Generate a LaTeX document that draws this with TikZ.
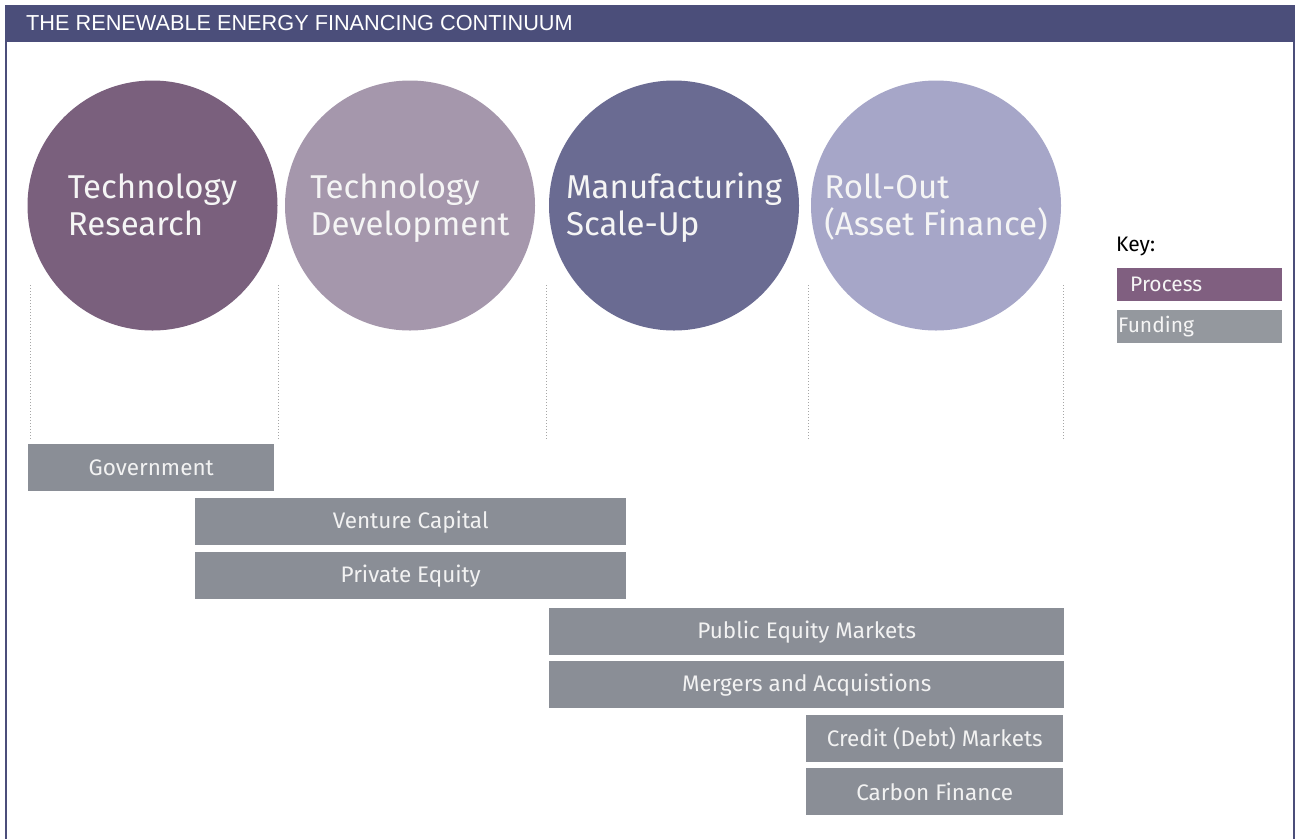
\documentclass[tikz,border=0pt]{standalone}
\usepackage{fontspec}
\setmainfont{Fira Sans}
\newfontfamily\headfont{Liberation Sans}
\newcommand{\toprule}{\rule{0pt}{34pt}}
\begin{document}
\begin{tikzpicture}[x=1pt,y=-1pt,
  stage/.style={circle, inner sep=0pt, minimum size=250pt, align=left, text=white!92!gray,
    font=\fontsize{33}{37}\selectfont},
  fund/.style={rectangle, fill=fundgray, inner sep=0pt, minimum height=47pt, anchor=north west,
    text=white!90!gray, font=\fontsize{22.5}{25}\selectfont},
  guide/.style={draw=gray!70, line width=1pt, dotted},
  keybox/.style={rectangle, inner sep=0pt, minimum width=165pt, minimum height=33pt, anchor=north west,
    text=white!92!gray, font=\fontsize{21}{24}\selectfont, text width=163pt, align=left}
]
\definecolor{headblue}{RGB}{75,78,122}
\definecolor{cOne}{RGB}{122,96,125}
\definecolor{cTwo}{RGB}{165,151,172}
\definecolor{cThree}{RGB}{106,107,146}
\definecolor{cFour}{RGB}{166,166,200}
\definecolor{fundgray}{RGB}{138,142,150}
\definecolor{keyproc}{RGB}{128,95,128}
\definecolor{keyfund}{RGB}{148,152,158}
\useasboundingbox (0,0) rectangle (1298,839);
\fill[white] (0,0) rectangle (1298,839);
% frame
\fill[headblue] (5,5) rectangle (1295,42);
\draw[headblue, line width=2pt] (6,42) -- (6,839);
\draw[headblue, line width=2pt] (1294,42) -- (1294,839);
\node[anchor=base west, text=white, font=\headfont\fontsize{21.7}{24}\selectfont, inner sep=0pt] (title) at (26,30.5) {THE RENEWABLE ENERGY FINANCING CONTINUUM};
% guides
\foreach \gx in {30,278,546,808,1063} \draw[guide] (\gx,285) -- (\gx,440);
% stages
\node[stage, fill=cOne] (s1) at (152.5,205.5) {\toprule Technology\\\strut Research};
\node[stage, fill=cTwo] (s2) at (410,205.5) {\toprule Technology\\\strut Development};
\node[stage, fill=cThree] (s3) at (674,205.5) {\toprule Manufacturing\\\strut Scale-Up};
\node[stage, fill=cFour] (s4) at (936,205.5) {\toprule Roll-Out\\\strut (Asset Finance)};
% funding
\node[fund, minimum width=246pt] (gov) at (28,444) {Government};
\node[fund, minimum width=431pt] (vc) at (195,498) {Venture Capital};
\node[fund, minimum width=431pt] (pe) at (195,552) {Private Equity};
\node[fund, minimum width=515pt] (pem) at (549,608) {Public Equity Markets};
\node[fund, minimum width=515pt] (ma) at (549,661) {Mergers and Acquistions};
\node[fund, minimum width=257pt] (cdm) at (806,715) {Credit (Debt) Markets};
\node[fund, minimum width=257pt] (cf) at (806,768) {Carbon Finance};
% key
\node[anchor=base west, inner sep=0pt, font=\fontsize{21}{24}\selectfont] (key) at (1116,251) {Key:};
\node[keybox, fill=keyproc] (kp) at (1117,268) {\hspace*{12pt}Process};
\node[keybox, fill=keyfund] (kf) at (1117,310) {Funding};
\end{tikzpicture}
\end{document}
